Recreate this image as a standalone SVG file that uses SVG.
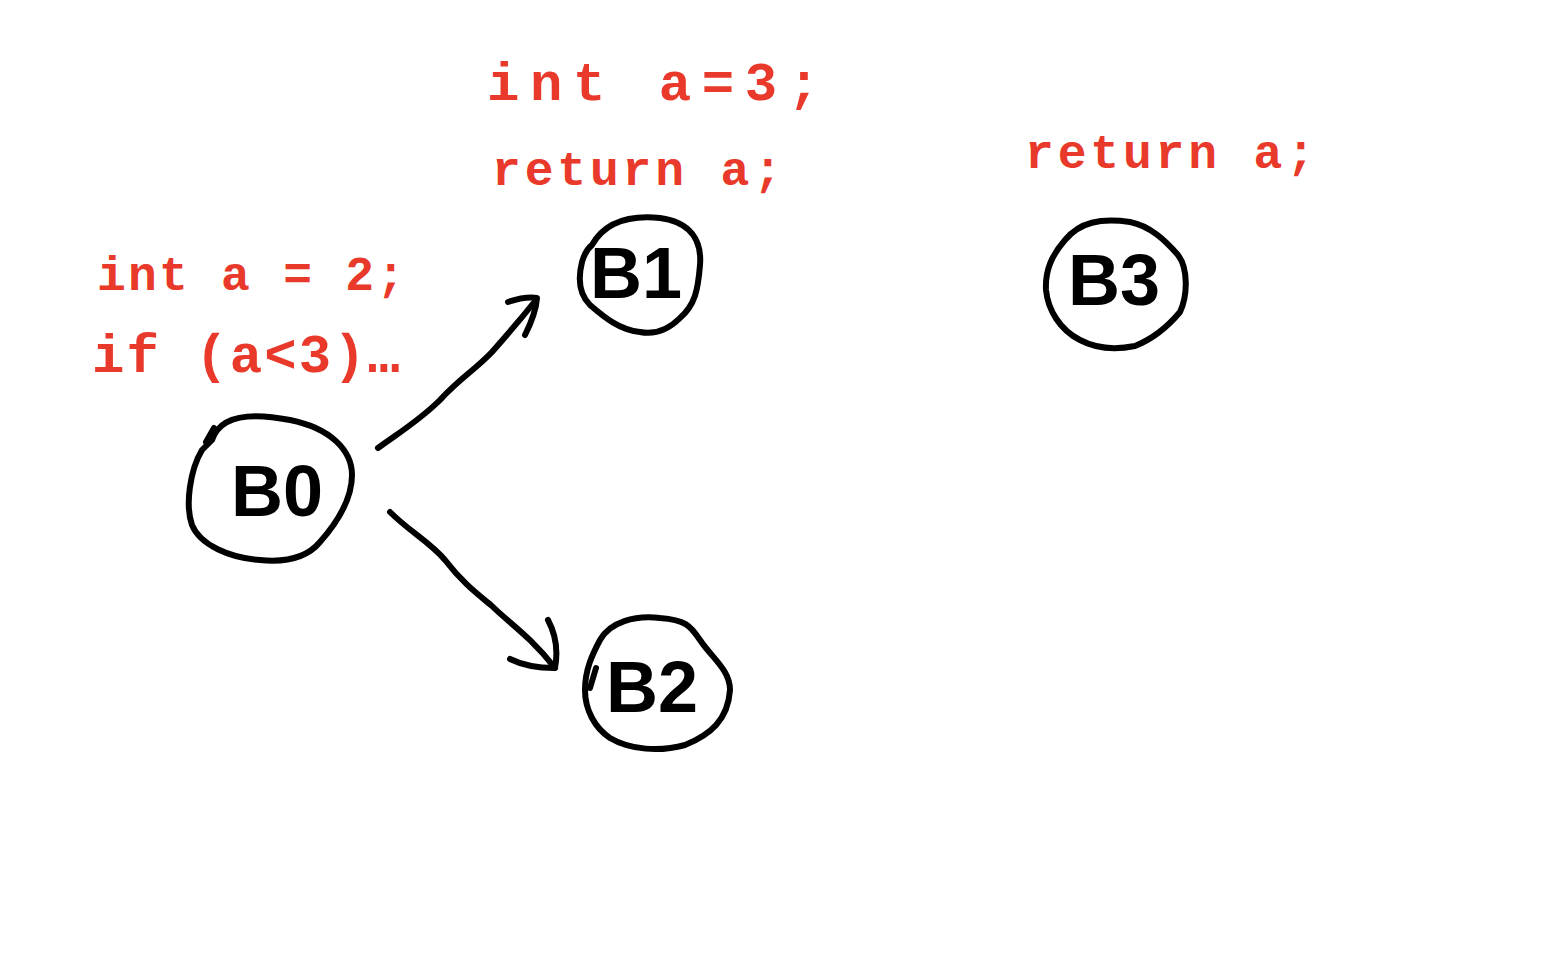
<svg xmlns="http://www.w3.org/2000/svg" width="1554" height="956" viewBox="0 0 1554 956">
  <style>
    .code { fill: #e8392b; font-family: "Liberation Mono", "DejaVu Sans Mono", monospace; font-size: 54px; font-weight: bold; }
    .code.tight { font-size: 48px; }
    .ring { fill: none; stroke: #000; stroke-width: 6; stroke-linecap: round; stroke-linejoin: round; }
    .label { fill: #000; font-family: "Liberation Sans", "DejaVu Sans", sans-serif; font-size: 72px; font-weight: bold; text-anchor: middle; }
    .edge { fill: none; stroke: #000; stroke-width: 6; stroke-linecap: round; stroke-linejoin: round; }
  </style>
  <rect width="1554" height="956" fill="#fff"/>

  <!-- code annotations -->
  <g id="code-b0">
    <text class="code tight" x="97" y="290" textLength="308" lengthAdjust="spacing">int a = 2;</text>
    <text class="code" x="92" y="372" textLength="308" lengthAdjust="spacing">if (a&lt;3)…</text>
  </g>
  <g id="code-b1">
    <text class="code" x="487" y="100" textLength="333" lengthAdjust="spacing">int  a=3;</text>
    <text class="code tight" x="492" y="185" textLength="290" lengthAdjust="spacing">return  a;</text>
  </g>
  <g id="code-b3">
    <text class="code tight" x="1025" y="168" textLength="290" lengthAdjust="spacing">return a;</text>
  </g>

  <!-- basic blocks -->
  <g id="B0">
    <path class="ring" d="M 212,440 C 220,415 250,412 290,420 C 330,428 352,450 352,475 C 352,500 335,525 320,542 C 305,560 280,562 260,560 C 230,558 200,545 192,525 C 185,505 190,470 202,450 Z"/>
    <path class="ring" d="M 206,442 L 214,428"/>
    <text class="label" x="277" y="516">B0</text>
  </g>
  <g id="B1">
    <path class="ring" d="M 592,245 C 605,222 630,215 660,218 C 690,222 702,240 700,265 C 698,290 695,305 680,318 C 668,330 655,335 640,332 C 620,330 605,318 590,305 C 578,293 578,278 582,262 C 585,252 588,248 592,245 Z"/>
    <text class="label" x="636" y="298">B1</text>
  </g>
  <g id="B2">
    <path class="ring" d="M 600,640 C 610,622 635,615 660,618 C 685,620 690,625 700,640 C 712,658 730,670 730,690 C 728,720 710,735 685,745 C 660,752 630,750 610,738 C 595,728 585,710 585,690 C 585,670 592,655 600,640 Z"/>
    <path class="ring" d="M 590,688 L 596,668"/>
    <text class="label" x="652" y="712">B2</text>
  </g>
  <g id="B3">
    <path class="ring" d="M 1065,240 C 1080,222 1100,218 1130,222 C 1150,226 1165,240 1178,255 C 1188,268 1188,295 1180,312 C 1165,330 1150,340 1135,346 C 1115,350 1095,348 1080,340 C 1060,330 1048,310 1046,290 C 1045,270 1052,255 1065,240 Z"/>
    <text class="label" x="1114" y="305">B3</text>
  </g>

  <!-- control-flow edges -->
  <g id="edges">
    <path class="edge" d="M 378,448 C 400,432 420,420 440,400 C 460,378 475,370 492,352 C 508,334 520,320 536,300"/>
    <path class="edge" d="M 508,302 C 520,298 530,297 537,298 C 536,312 530,325 525,335"/>
    <path class="edge" d="M 390,512 C 410,532 430,542 445,560 C 462,582 475,592 492,606 C 508,622 530,636 555,668"/>
    <path class="edge" d="M 548,620 C 556,635 558,652 555,668 C 540,668 522,665 510,659"/>
  </g>
</svg>
